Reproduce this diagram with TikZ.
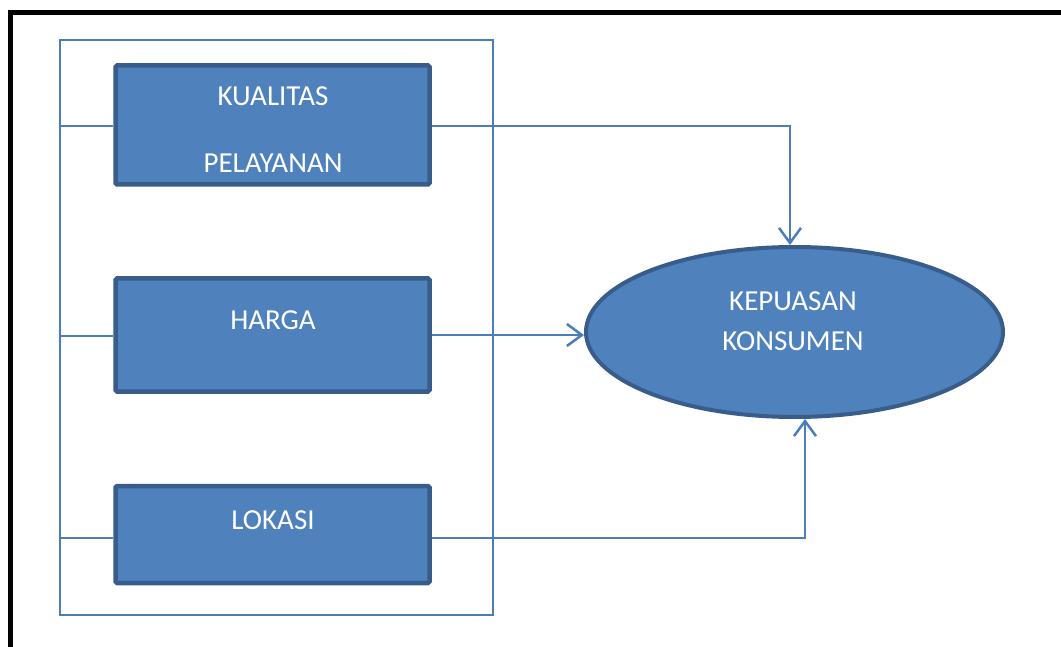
\documentclass[tikz,border=0pt]{standalone}
\usepackage{fontspec}
\setmainfont{Carlito}
\usetikzlibrary{arrows.meta,shapes.geometric}
\definecolor{bfill}{HTML}{4F81BD}
\definecolor{bdraw}{HTML}{385D8A}
\definecolor{bline}{HTML}{4A7EBB}
\tikzset{
  boxnode/.style={draw=bdraw, fill=bfill, line width=4.5pt, rounded corners=1.5pt, inner sep=0pt},
  lbl/.style={text=white, anchor=base, inner sep=0pt, font=\fontsize{29}{35}\selectfont},
  conn/.style={draw=bline, line width=2pt},
  arr/.style={conn, -{Straight Barb[length=15pt,width=22pt,line width=2.5pt]}},
}
\begin{document}
\begin{tikzpicture}[x=1pt,y=-1pt]
\useasboundingbox (0,0) rectangle (1061,647);
% outer black frame (runs beyond the page)
\draw[line width=5pt, black] (10.5,700) -- (10.5,12.5) -- (1100,12.5);
% thin outline around the three boxes
\node[draw=bline, line width=2pt, minimum width=433pt, minimum height=575pt, inner sep=0pt] (frame) at (276.5,327.5) {};
% boxes
\node[boxnode, minimum width=314pt, minimum height=119pt] (box1) at (272.5,125) {};
\node[boxnode, minimum width=314pt, minimum height=113pt] (box2) at (272.5,335) {};
\node[boxnode, minimum width=314pt, minimum height=97pt] (box3) at (272.5,534.5) {};
% ellipse
\node[ellipse, draw=bdraw, fill=bfill, line width=4pt, minimum width=417pt, minimum height=170pt, inner sep=0pt] (ell) at (794.5,332) {};
% labels
\node[lbl] (t1a) at (273,106) {KUALITAS};
\node[lbl] (t1b) at (273,173) {PELAYANAN};
\node[lbl] (t2) at (273,329.5) {HARGA};
\node[lbl] (t3) at (273,529.5) {LOKASI};
\node[lbl] (t4a) at (793,310) {KEPUASAN};
\node[lbl] (t4b) at (793,350) {KONSUMEN};
% left stubs
\coordinate (s1) at (60,126);
\coordinate (s2) at (60,336);
\coordinate (s3) at (60,538);
\draw[conn] (s1) -- (s1 -| box1.west);
\draw[conn] (s2) -- (s2 -| box2.west);
\draw[conn] (s3) -- (s3 -| box3.west);
% arrows to ellipse
\coordinate (c1) at (790,126);
\coordinate (c2) at (584,335);
\coordinate (c3) at (805,538);
\coordinate (e1) at (790,245);
\coordinate (e3) at (805,419);
\draw[arr] (c1 -| box1.east) -- (c1) -- (e1);
\draw[arr] (c2 -| box2.east) -- (c2);
\draw[arr] (c3 -| box3.east) -- (c3) -- (e3);
\end{tikzpicture}
\end{document}
